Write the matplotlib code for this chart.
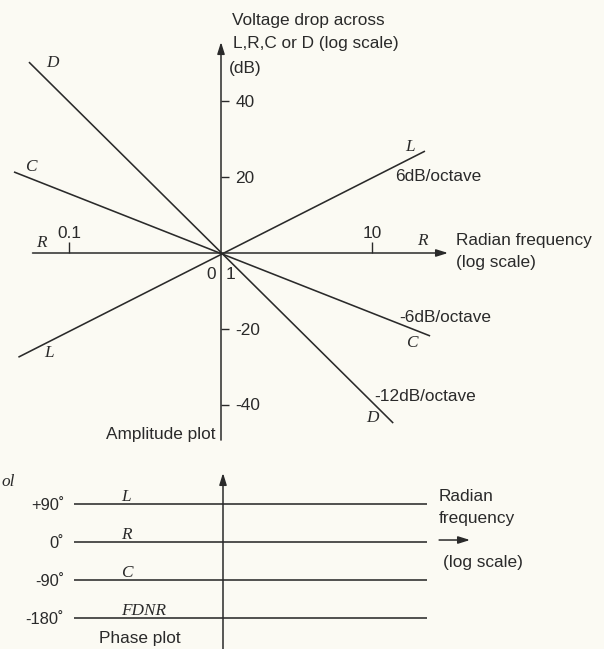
import matplotlib
matplotlib.use('Agg')
import matplotlib.pyplot as plt
from matplotlib.ticker import NullLocator

# ==============================================================
# DATA
# ==============================================================
# amplitude plot: end points of each straight line (rad/s, dB)
L_freq = [0.046, 22.2]
L_db = [-27.5, 26.9]
C_freq = [0.043, 24.0]
C_db = [21.4, -21.9]
D_freq = [0.054, 13.7]
D_db = [50.4, -44.9]
R_freq = [0.057, 31.5]
R_db = [0, 0]

amp_ticks = [40, 20, -20, -40]
amp_tick_labels = ['40', '20', '-20', '-40']
freq_ticks = [0.1, 10]
freq_tick_labels = ['0.1', '10']

# phase plot
phase_deg = [90, 0, -90, -180]
phase_tick_labels = ['+90˚', '0˚', '-90˚', '-180˚']
phase_names = ['L', 'R', 'C', 'FDNR']
phase_freq = [0.104, 22.2]

# ==============================================================
# LAYOUT
# ==============================================================
W, H = 604, 649
BG = '#fbfaf3'
INK = '#2a2a2a'
SANS = ['Liberation Sans', 'DejaVu Sans']
SERIF = ['Liberation Serif', 'DejaVu Serif']
FS = 12.4

decade_px = 151.5
amp_x0, amp_y0 = 221, 253      # pixel of (1 rad/s, 0 dB)
px_per_db = 3.7875
amp_bottom = 460
ph_left, ph_top = 70, 465
ph_x0, ph_y0 = 223, 542        # pixel of (1 rad/s, 0 deg)
px_per_deg = 114 / 270.0

plt.rcParams['font.family'] = SANS
fig = plt.figure(figsize=(W / 100, H / 100), dpi=100, facecolor=BG)

arrow = dict(arrowstyle='-|>,head_length=0.7,head_width=0.22', color=INK,
             lw=1.1, shrinkA=0, shrinkB=0, mutation_scale=10)


def sans(ax, x, y, s, **kw):
    ax.text(x, y, s, fontsize=FS, color=INK, family=SANS, **kw)


def ital(ax, x, y, s, **kw):
    ax.text(x, y, s, fontsize=FS, color=INK, family=SERIF, style='italic', **kw)


# ---------------- amplitude plot ----------------
ax_a = fig.add_axes([0, (H - amp_bottom) / H, 1, amp_bottom / H])
ax_a.set_facecolor('none')
ax_a.set_xscale('log')
ax_a.set_xlim(10 ** (-amp_x0 / decade_px), 10 ** ((W - amp_x0) / decade_px))
ax_a.set_ylim(-(amp_bottom - amp_y0) / px_per_db, amp_y0 / px_per_db)

for side in ['left', 'bottom', 'right', 'top']:
    ax_a.spines[side].set_visible(False)
ax_a.spines['right'].set_position(('data', 1.0))
ax_a.spines['top'].set_position(('data', 0.0))
ax_a.yaxis.tick_right()
ax_a.xaxis.tick_top()
ax_a.xaxis.set_minor_locator(NullLocator())
ax_a.set_yticks(amp_ticks, amp_tick_labels)
ax_a.set_xticks(freq_ticks, freq_tick_labels)
ax_a.tick_params(axis='y', direction='out', length=5.5, width=1.0, pad=5,
                 labelsize=FS, colors=INK)
ax_a.tick_params(axis='x', direction='out', length=8, width=1.0, pad=0.5,
                 labelsize=FS, colors=INK)

for f, db in [(L_freq, L_db), (C_freq, C_db), (D_freq, D_db)]:
    ax_a.plot(f, db, color=INK, lw=1.15, solid_capstyle='butt')

# axes with arrow heads (R is the frequency axis itself)
ax_a.annotate('', xy=(R_freq[1], R_db[1]), xytext=(R_freq[0], R_db[0]), arrowprops=arrow)
ax_a.annotate('', xy=(1, 55.7), xytext=(1, -49.4), arrowprops=arrow)

sans(ax_a, 1.182, 61.3, 'Voltage drop across', va='center')
sans(ax_a, 1.2, 55.4, 'L,R,C or D (log scale)', va='center')
sans(ax_a, 1.129, 48.8, '(dB)', va='center')
sans(ax_a, 35.6, 3.2, 'Radian frequency', va='center')
sans(ax_a, 35.6, -2.4, '(log scale)', va='center')
sans(ax_a, 14.1, 20.3, '6dB/octave', va='center')
sans(ax_a, 15.0, -16.9, '-6dB/octave', va='center')
sans(ax_a, 10.2, -38.0, '-12dB/octave', va='center')
sans(ax_a, 0.913, -47.8, 'Amplitude plot', ha='right', va='center')
sans(ax_a, 0.859, -5.8, '0', ha='center', va='center')
sans(ax_a, 1.147, -5.8, '1', ha='center', va='center')

ital(ax_a, 0.0766, 50.2, 'D', ha='center', va='center')
ital(ax_a, 0.0557, 22.7, 'C', ha='center', va='center')
ital(ax_a, 0.0648, 2.6, 'R', ha='center', va='center')
ital(ax_a, 21.2, 3.2, 'R', ha='center', va='center')
ital(ax_a, 17.7, 28.0, 'L', ha='center', va='center')
ital(ax_a, 18.2, -23.8, 'C', ha='center', va='center')
ital(ax_a, 9.92, -43.6, 'D', ha='center', va='center')
ital(ax_a, 0.0732, -26.4, 'L', ha='center', va='center')

# ---------------- phase plot ----------------
ax_p = fig.add_axes([ph_left / W, 0, (W - ph_left) / W, (H - ph_top) / H])
ax_p.set_facecolor('none')
ax_p.set_xscale('log')
ax_p.set_xlim(10 ** ((ph_left - ph_x0) / decade_px), 10 ** ((W - ph_x0) / decade_px))
ax_p.set_ylim(-(H - ph_y0) / px_per_deg, (ph_y0 - ph_top) / px_per_deg)
for side in ['left', 'bottom', 'right', 'top']:
    ax_p.spines[side].set_visible(False)
ax_p.set_xticks([])
ax_p.xaxis.set_minor_locator(NullLocator())
ax_p.set_yticks(phase_deg, phase_tick_labels)
ax_p.tick_params(axis='y', length=0, pad=4.3, labelsize=FS - 0.5, colors=INK)

for deg, name in zip(phase_deg, phase_names):
    ax_p.plot(phase_freq, [deg, deg], color=INK, lw=1.15, solid_capstyle='butt')
    ital(ax_p, 0.23 if name != 'FDNR' else 0.30, deg + 17, name, ha='center', va='center')

ax_p.annotate('', xy=(1, 163.4), xytext=(1, ax_p.get_ylim()[0]), arrowprops=arrow)
ax_p.annotate('', xy=(42.7, 4.7), xytext=(26.7, 4.7), arrowprops=arrow)

sans(ax_p, 0.283, -229.7, 'Phase plot', ha='center', va='center')
sans(ax_p, 26.7, 106.6, 'Radian', va='center')
sans(ax_p, 26.7, 54.5, 'frequency', va='center')
sans(ax_p, 28.3, -47.4, '(log scale)', va='center')

# fragment at the left edge of the page
fig.text(1 / W, 1 - 482 / H, 'ol', fontsize=FS, color=INK, family=SERIF,
         style='italic', va='center')

fig.savefig('out.png', dpi=100, facecolor=BG)
